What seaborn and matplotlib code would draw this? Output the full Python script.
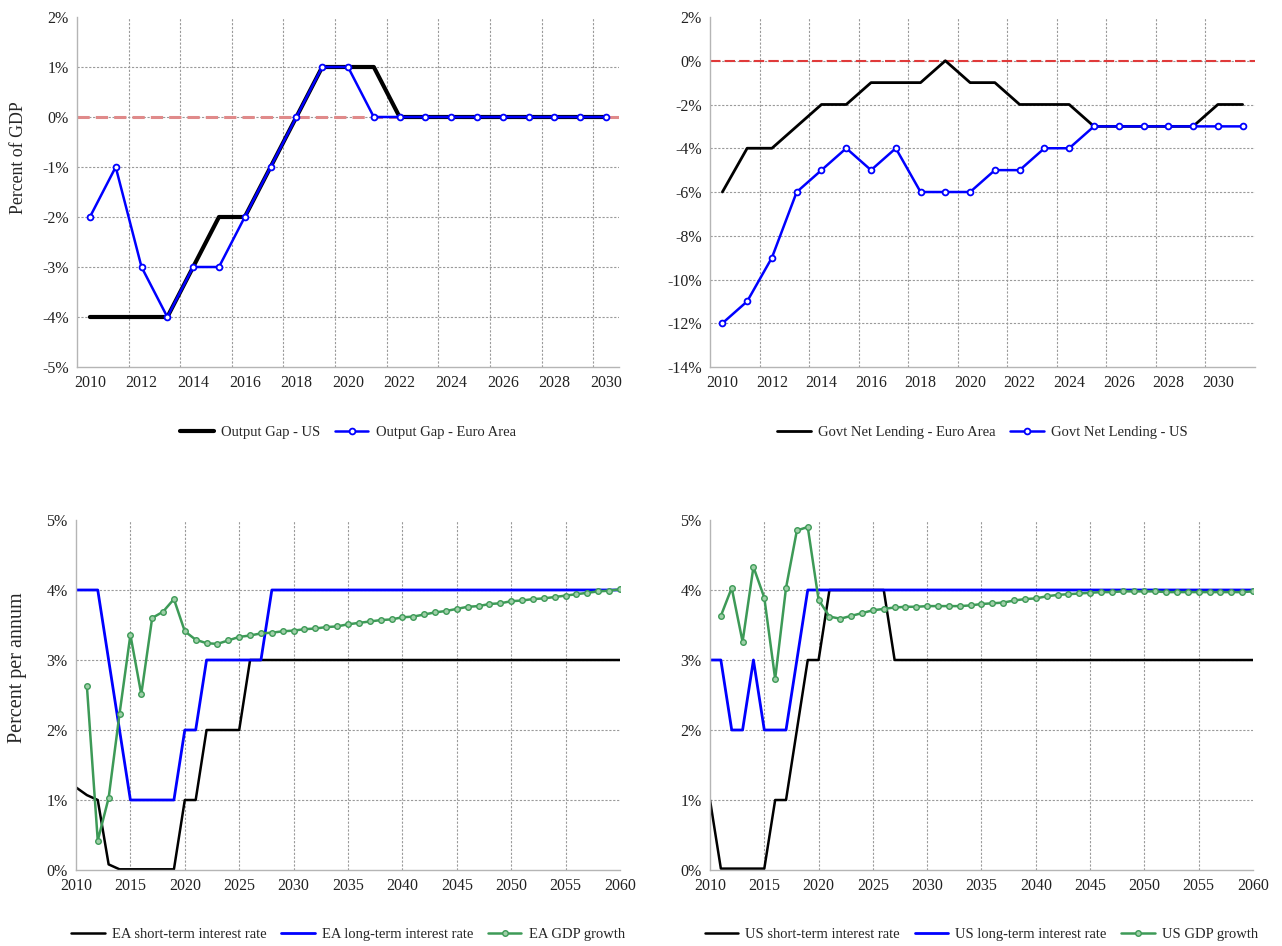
import matplotlib
matplotlib.use("Agg")
import matplotlib.pyplot as plt
from matplotlib.ticker import FuncFormatter, FixedLocator
import seaborn as sns

# output gap (percent of GDP)
gap_years = list(range(2010, 2031))
gap_us = [-4, -4, -4, -4, -3, -2, -2, -1, 0, 1, 1, 1, 0, 0, 0, 0, 0, 0, 0, 0, 0]
gap_ea = [-2, -1, -3, -4, -3, -3, -2, -1, 0, 1, 1, 0, 0, 0, 0, 0, 0, 0, 0, 0, 0]

# govt net lending (percent of GDP)
lend_years = list(range(2010, 2032))
lend_ea = [-6, -4, -4, -3, -2, -2, -1, -1, -1, 0, -1, -1, -2, -2, -2,
           -3, -3, -3, -3, -3, -2, -2]
lend_us = [-12, -11, -9, -6, -5, -4, -5, -4, -6, -6, -6, -5, -5, -4, -4,
           -3, -3, -3, -3, -3, -3, -3]

# interest rates, 2010-2060 (percent per annum)
rate_years = list(range(2010, 2061))
ea_short = [1.18, 1.07, 1.0, 0.08, 0.01, 0.01, 0.01, 0.01, 0.01, 0.01,
            1, 1, 2, 2, 2, 2] + [3] * 35
ea_long = [4, 4, 4, 3, 2, 1, 1, 1, 1, 1, 2, 2, 3, 3, 3, 3, 3, 3] + [4] * 33
us_short = [1.0, 0.02, 0.02, 0.02, 0.02, 0.02, 1, 1, 2, 3, 3,
            4, 4, 4, 4, 4, 4] + [3] * 34
us_long = [3, 3, 2, 2, 3, 2, 2, 2, 3] + [4] * 42

# GDP growth, 2011-2060
gdp_years = list(range(2011, 2061))
ea_gdp = [2.63, 0.42, 1.03, 2.23, 3.36, 2.51, 3.60, 3.69, 3.87, 3.41,
          3.29, 3.24, 3.23, 3.28, 3.33, 3.35, 3.38, 3.39, 3.41, 3.42,
          3.44, 3.45, 3.47, 3.48, 3.51, 3.53, 3.55, 3.57, 3.58, 3.61,
          3.62, 3.65, 3.68, 3.70, 3.73, 3.76, 3.77, 3.80, 3.81, 3.84,
          3.85, 3.87, 3.88, 3.90, 3.92, 3.94, 3.96, 3.98, 3.99, 4.01]
us_gdp = [3.63, 4.03, 3.26, 4.33, 3.89, 2.73, 4.03, 4.85, 4.90, 3.86,
          3.62, 3.59, 3.63, 3.67, 3.71, 3.73, 3.75, 3.76, 3.76, 3.77,
          3.77, 3.77, 3.77, 3.78, 3.80, 3.81, 3.82, 3.85, 3.87, 3.88,
          3.91, 3.93, 3.94, 3.95, 3.96, 3.97, 3.97, 3.98, 3.98, 3.98,
          3.98, 3.97, 3.97, 3.97, 3.97, 3.97, 3.97, 3.97, 3.97, 3.98]

sns.set_style("white")
plt.rcParams["font.family"] = ["Liberation Serif", "DejaVu Serif"]
plt.rcParams["font.size"] = 11

BLUE = "#0000ff"
GREEN = "#3d9a57"
GRID = "#9a9a9a"
pct = FuncFormatter(lambda v, p: f"{int(round(v))}%")

fig = plt.figure(figsize=(12.82, 9.46), dpi=100)
ax1 = fig.add_axes([77 / 1282, 1 - 367 / 946, 542 / 1282, 350 / 946])
ax2 = fig.add_axes([710 / 1282, 1 - 367 / 946, 545 / 1282, 350 / 946])
ax3 = fig.add_axes([76 / 1282, 1 - 870 / 946, 544 / 1282, 350 / 946])
ax4 = fig.add_axes([710 / 1282, 1 - 870 / 946, 543 / 1282, 350 / 946])


def style(ax, ymin, ymax, ystep, xmin, xmax, xticks, vgrid):
    ax.set_ylim(ymin, ymax)
    ax.set_xlim(xmin, xmax)
    ax.yaxis.set_major_locator(FixedLocator(list(range(ymin, ymax + 1, ystep))))
    ax.yaxis.set_major_formatter(pct)
    ax.set_xticks(xticks)
    ax.set_xticklabels([str(t) for t in xticks])
    ax.grid(False)
    for y in range(ymin + ystep, ymax, ystep):
        ax.axhline(y, color=GRID, lw=0.8, ls=(0, (2, 1.5)), zorder=0)
    for x in vgrid:
        ax.axvline(x, color=GRID, lw=0.8, ls=(0, (2, 1.5)), zorder=0)
    for s in ["top", "right"]:
        ax.spines[s].set_visible(False)
    for s in ["left", "bottom"]:
        ax.spines[s].set_color("#b5b5b5")
        ax.spines[s].set_linewidth(1.0)
    ax.tick_params(length=0, pad=6, labelsize=11.5, colors="#222222")
    ax.set_xlabel("")
    ax.set_ylabel("")


# top-left: output gap
sns.lineplot(x=gap_years, y=gap_us, ax=ax1, color="black", lw=3.0,
             label="Output Gap - US")
sns.lineplot(x=gap_years, y=gap_ea, ax=ax1, color=BLUE, lw=1.8, marker="o",
             markersize=4.2, markerfacecolor="white", markeredgecolor=BLUE,
             markeredgewidth=1.3, label="Output Gap - Euro Area")
ax1.axhline(0, color="#e08a8a", lw=2.2, ls=(0, (4, 2)), zorder=1)
style(ax1, -5, 2, 1, 2009.5, 2030.5, list(range(2010, 2031, 2)),
      [y + 0.5 for y in range(2011, 2030, 2)])
ax1.set_ylabel("Percent of GDP", fontsize=12.8)
ax1.yaxis.set_label_coords(-0.092, 0.597)

# top-right: govt net lending
sns.lineplot(x=lend_years, y=lend_ea, ax=ax2, color="black", lw=2.0,
             label="Govt Net Lending - Euro Area")
sns.lineplot(x=lend_years, y=lend_us, ax=ax2, color=BLUE, lw=1.8, marker="o",
             markersize=4.2, markerfacecolor="white", markeredgecolor=BLUE,
             markeredgewidth=1.3, label="Govt Net Lending - US")
ax2.axhline(0, color="#e03a3a", lw=1.5, ls=(0, (5, 2)), zorder=1)
style(ax2, -14, 2, 2, 2009.5, 2031.5, list(range(2010, 2031, 2)),
      [y + 0.5 for y in range(2011, 2030, 2)])

# bottom-left: EA rates and growth
sns.lineplot(x=rate_years, y=ea_short, ax=ax3, color="black", lw=1.8,
             label="EA short-term interest rate")
sns.lineplot(x=rate_years, y=ea_long, ax=ax3, color=BLUE, lw=2.0,
             label="EA long-term interest rate")
sns.lineplot(x=gdp_years, y=ea_gdp, ax=ax3, color=GREEN, lw=1.8, marker="o",
             markersize=4, markerfacecolor="#9fd0a8", markeredgecolor=GREEN,
             markeredgewidth=1.0, label="EA GDP growth")
style(ax3, 0, 5, 1, 2010, 2060, list(range(2010, 2061, 5)),
      list(range(2015, 2060, 5)))
ax3.set_ylabel("Percent per annum", fontsize=14.5)
ax3.yaxis.set_label_coords(-0.09, 0.577)

# bottom-right: US rates and growth
sns.lineplot(x=rate_years, y=us_short, ax=ax4, color="black", lw=1.8,
             label="US short-term interest rate")
sns.lineplot(x=rate_years, y=us_long, ax=ax4, color=BLUE, lw=2.0,
             label="US long-term interest rate")
sns.lineplot(x=gdp_years, y=us_gdp, ax=ax4, color=GREEN, lw=1.8, marker="o",
             markersize=4, markerfacecolor="#9fd0a8", markeredgecolor=GREEN,
             markeredgewidth=1.0, label="US GDP growth")
style(ax4, 0, 5, 1, 2010, 2060, list(range(2010, 2061, 5)),
      list(range(2015, 2060, 5)))

for ax, y in [(ax1, -0.186), (ax2, -0.186), (ax3, -0.183), (ax4, -0.183)]:
    ax.legend(loc="center", bbox_to_anchor=(0.5, y), ncol=3, frameon=False,
              fontsize=10.5, handlelength=2.3, columnspacing=1.0,
              handletextpad=0.5)

fig.savefig("out.png", dpi=100)
